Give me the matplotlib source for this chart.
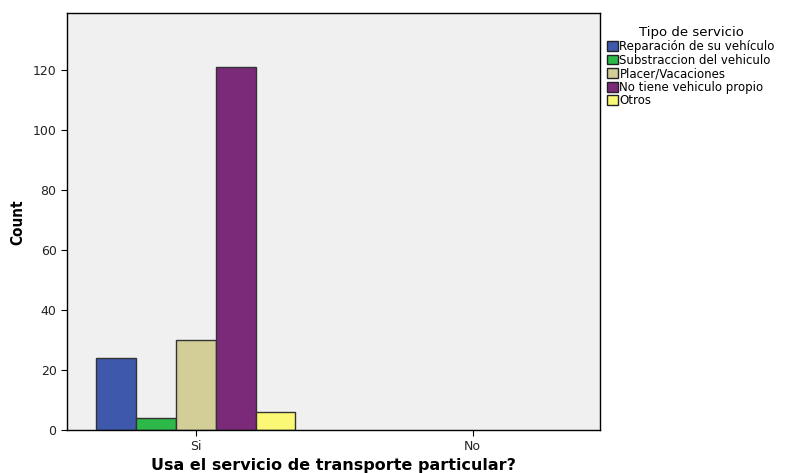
import numpy as np
import matplotlib
matplotlib.use('Agg')
from matplotlib import pyplot as plt

plt.rcParams['font.family'] = ['DejaVu Sans']

# data
groups = ['Si', 'No']
services = ['Reparación de su vehículo', 'Substraccion del vehiculo',
            'Placer/Vacaciones', 'No tiene vehiculo propio', 'Otros']
counts_si = [24, 4, 30, 121, 6]
counts_no = [0, 0, 0, 0, 0]
colors = ['#3E58AC', '#2DB84A', '#D3CE97', '#7B2A7A', '#FBF876']

fig = plt.figure(figsize=(7.95, 4.73), dpi=100)
ax = fig.add_axes([67/795, 1 - 430/473, (600-67)/795, (430-13)/473])
ax.set_facecolor('#F0F0F0')

x = np.arange(len(groups))
width = 0.144
for i, (name, col) in enumerate(zip(services, colors)):
    vals = np.array([counts_si[i], counts_no[i]])
    off = (i - 2) * width
    bars = ax.bar(x + off, vals, width, color=col, edgecolor='#333333',
                  linewidth=1, label=name)
    # empty categories get no outline
    for b, v in zip(bars, vals):
        if v == 0:
            b.set_visible(False)

ax.set_xlim(-0.465, 1.46)
ax.set_ylim(0, 139)
ax.set_xticks(x)
ax.set_xticklabels(groups)
ax.set_yticks(range(0, 121, 20))
ax.tick_params(axis='both', labelsize=9, length=4, color='black', labelcolor='#222222')
for s in ax.spines.values():
    s.set_color('black')
    s.set_linewidth(1)

fig.text(333/795, 1 - 465/473, 'Usa el servicio de transporte particular?',
         fontsize=11.5, fontweight='bold', ha='center', va='center')
fig.text(18/795, 1 - 222/473, 'Count', fontsize=11, fontweight='bold',
         fontstretch='condensed', rotation=90, ha='center', va='center')

leg = ax.legend(loc='upper left', bbox_to_anchor=(1.0, 0.985), frameon=False,
                fontsize=8.5, title='Tipo de servicio', title_fontsize=9.5,
                handlelength=0.9, handleheight=0.9, handletextpad=0.15,
                labelspacing=0.05, borderaxespad=0.2)
leg._legend_box.align = 'center'
for p in leg.get_patches():
    p.set_edgecolor('#222222')

fig.savefig('out.png', dpi=100)
